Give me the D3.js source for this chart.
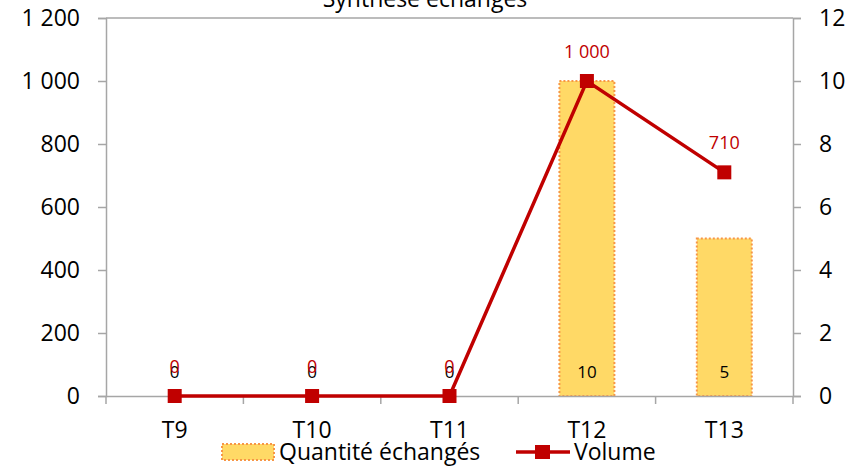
<!DOCTYPE html>
<html>
  <head>
    <meta charset="utf-8">
    <title>Synthèse échangés</title>
    <script src="https://d3js.org/d3.v7.min.js"></script>
    <style>
      body { margin: 0; background: #fff; }
      text { font-family: "Open Sans", "Liberation Sans", sans-serif; }
    </style>
  </head>
  <body>
    <script>
      var categories = ["T9", "T10", "T11", "T12", "T13"];
      var quantite = [0, 0, 0, 10, 5];       // bars, right axis
      var volume = [0, 0, 0, 1000, 710];     // line, left axis
      var leftTicks = [0, 200, 400, 600, 800, 1000, 1200];
      var rightTicks = [0, 2, 4, 6, 8, 10, 12];

      var width = 860;
      var height = 469;
      var margin = {top: 18, left: 106, right: 67, bottom: 73};

      var fr = d3.formatLocale({decimal: ",", thousands: "\u00a0", grouping: [3], currency: ["", " €"]});
      var fmt = fr.format(",d");

      var svg = d3.select("body")
        .append("svg")
        .attr("width", width)
        .attr("height", height);

      var xScale = d3.scaleBand()
        .domain(categories)
        .range([margin.left, width - margin.right]);

      var yLeft = d3.scaleLinear()
        .domain([0, 1200])
        .range([height - margin.bottom, margin.top]);

      var yRight = d3.scaleLinear()
        .domain([0, 12])
        .range([height - margin.bottom, margin.top]);

      var barW = xScale.bandwidth() / 2.5;

      // plot box top border
      svg.append("line")
        .attr("x1", margin.left).attr("x2", width - margin.right)
        .attr("y1", margin.top).attr("y2", margin.top)
        .attr("stroke", "#a6a6a6").attr("stroke-width", 1.5);

      // bars
      svg.selectAll("rect.bar")
        .data(categories)
        .enter()
        .append("rect")
          .attr("class", "bar")
          .attr("x", function(d) { return xScale(d) + (xScale.bandwidth() - barW) / 2; })
          .attr("y", function(d, i) { return yRight(quantite[i]); })
          .attr("width", barW)
          .attr("height", function(d, i) { return yRight(0) - yRight(quantite[i]); })
          .attr("fill", "#ffd966")
          .attr("stroke", "#f79646")
          .attr("stroke-width", 2)
          .attr("stroke-dasharray", "2,2")
          .style("display", function(d, i) { return quantite[i] > 0 ? null : "none"; });

      // x axis
      var xAxis = svg.append("g")
        .attr("transform", `translate(0,${height - margin.bottom})`)
        .call(d3.axisBottom(xScale).tickSize(0).tickPadding(26));
      xAxis.select(".domain").attr("stroke", "#a6a6a6").attr("stroke-width", 1.5);
      xAxis.selectAll("text").attr("font-size", 23).attr("fill", "#000");
      xAxis.selectAll("line.sep")
        .data(d3.range(categories.length + 1))
        .enter()
        .append("line")
          .attr("class", "sep")
          .attr("x1", function(d) { return margin.left + d * xScale.step(); })
          .attr("x2", function(d) { return margin.left + d * xScale.step(); })
          .attr("y1", 0).attr("y2", 8)
          .attr("stroke", "#a6a6a6").attr("stroke-width", 1.5);

      // left axis
      var yAxisL = svg.append("g")
        .attr("transform", `translate(${margin.left},0)`)
        .call(d3.axisLeft(yLeft).tickValues(leftTicks).tickFormat(fmt).tickSizeOuter(0).tickSize(8).tickPadding(18));
      yAxisL.selectAll("line, path").attr("stroke", "#a6a6a6").attr("stroke-width", 1.5);
      yAxisL.selectAll("text").attr("font-size", 23).attr("fill", "#000");

      // right axis
      var yAxisR = svg.append("g")
        .attr("transform", `translate(${width - margin.right},0)`)
        .call(d3.axisRight(yRight).tickValues(rightTicks).tickSizeOuter(0).tickSize(8).tickPadding(18));
      yAxisR.selectAll("line, path").attr("stroke", "#a6a6a6").attr("stroke-width", 1.5);
      yAxisR.selectAll("text").attr("font-size", 23).attr("fill", "#000");

      // bar labels
      svg.selectAll("text.barLabel")
        .data(categories)
        .enter()
        .append("text")
          .attr("class", "barLabel")
          .attr("x", function(d) { return xScale(d) + xScale.bandwidth() / 2; })
          .attr("y", yRight(0) - 18)
          .attr("text-anchor", "middle")
          .attr("font-size", 17)
          .attr("fill", "#000")
          .text(function(d, i) { return fmt(quantite[i]); });

      // line
      var line = d3.line()
        .x(function(d, i) { return xScale(categories[i]) + xScale.bandwidth() / 2; })
        .y(function(d) { return yLeft(d); });

      svg.append("path")
        .datum(volume)
        .attr("d", line)
        .attr("fill", "none")
        .attr("stroke", "#c00000")
        .attr("stroke-width", 3.5);

      svg.selectAll("rect.marker")
        .data(volume)
        .enter()
        .append("rect")
          .attr("class", "marker")
          .attr("x", function(d, i) { return xScale(categories[i]) + xScale.bandwidth() / 2 - 7; })
          .attr("y", function(d) { return yLeft(d) - 7; })
          .attr("width", 14)
          .attr("height", 14)
          .attr("fill", "#c00000");

      svg.selectAll("text.lineLabel")
        .data(volume)
        .enter()
        .append("text")
          .attr("class", "lineLabel")
          .attr("x", function(d, i) { return xScale(categories[i]) + xScale.bandwidth() / 2; })
          .attr("y", function(d) { return yLeft(d) - 23; })
          .attr("text-anchor", "middle")
          .attr("font-size", 18)
          .attr("fill", "#c00000")
          .text(function(d) { return fmt(d); });

      // title (cut at top)
      svg.append("text")
        .attr("x", 425)
        .attr("y", 7)
        .attr("text-anchor", "middle")
        .attr("font-size", 23)
        .attr("fill", "#000")
        .text("Synthèse échangés");

      // legend
      var legend = svg.append("g").attr("transform", "translate(0,452)");
      legend.append("rect")
        .attr("x", 222).attr("y", -8).attr("width", 52).attr("height", 16)
        .attr("fill", "#ffd966").attr("stroke", "#f79646")
        .attr("stroke-width", 2).attr("stroke-dasharray", "2,2");
      legend.append("text")
        .attr("x", 279).attr("y", 8)
        .attr("font-size", 23).attr("fill", "#000")
        .text("Quantité échangés");
      legend.append("line")
        .attr("x1", 516).attr("x2", 570).attr("y1", 0).attr("y2", 0)
        .attr("stroke", "#c00000").attr("stroke-width", 3.5);
      legend.append("rect")
        .attr("x", 535).attr("y", -7).attr("width", 15).attr("height", 14)
        .attr("fill", "#c00000");
      legend.append("text")
        .attr("x", 574).attr("y", 8)
        .attr("font-size", 23).attr("fill", "#000")
        .text("Volume");
    </script>
  </body>
</html>
